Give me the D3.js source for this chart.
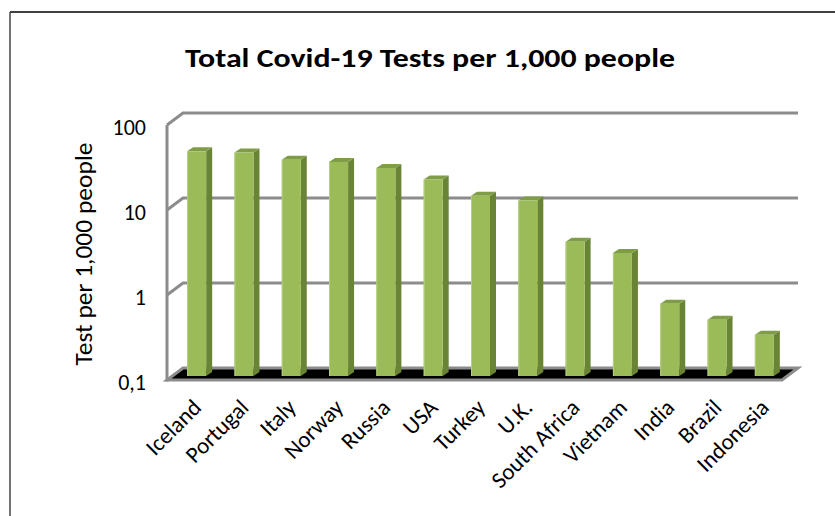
<!DOCTYPE html>
<html><head><meta charset="utf-8">
<script src="https://cdn.jsdelivr.net/npm/d3@7"></script>
<style>body{margin:0;background:#fff}svg{display:block}text{font-family:Carlito,"Open Sans",sans-serif}</style>
</head><body>
<svg id="c" width="835" height="516"></svg>
<script>
const categories = ["Iceland","Portugal","Italy","Norway","Russia","USA","Turkey","U.K.","South Africa","Vietnam","India","Brazil","Indonesia"];
const values = [44, 42.5, 35, 33, 28, 20.5, 13.2, 11.6, 3.8, 2.8, 0.71, 0.46, 0.305];
const tickValues = [0.1, 1, 10, 100];
const tickLabels = ["0,1", "1", "10", "100"];
const titleText = "Total Covid-19 Tests per 1,000 people";
const yTitle = "Test per 1,000 people";

const svg = d3.select("#c");
const x0 = 167, x1 = 782;
const y = d3.scaleLog().domain([0.1, 100]).range([380, 125]);
const x = d3.scaleBand().domain(categories).range([x0, x1]).paddingInner(0).paddingOuter(0);
const backDx = 16, backDy = -12;
const barDx = 6, barDy = -4, depthX = 6, depthY = -4;
const barW = 19;
const grid = "#8c8c8c";

// outer frame
svg.append("line").attr("x1",10).attr("y1",12).attr("x2",835).attr("y2",12).attr("stroke","#000").attr("stroke-width",1.5);
svg.append("line").attr("x1",10).attr("y1",12).attr("x2",10).attr("y2",516).attr("stroke","#444").attr("stroke-width",1.5);

// title
svg.append("text").attr("x",430).attr("y",67).attr("text-anchor","middle")
  .attr("font-size",26).attr("font-weight","bold").attr("fill","#000")
  .attr("textLength",490).attr("lengthAdjust","spacingAndGlyphs").text(titleText);

// floor
const fy = y(0.1);
svg.append("path").attr("d", `M${x0},${fy}L${x1},${fy}L${x1+backDx},${fy+backDy}L${x0+backDx},${fy+backDy}Z`)
  .attr("fill","#000").attr("stroke",grid).attr("stroke-width",3).attr("stroke-linejoin","miter");

// gridlines on back wall + left diagonal
tickValues.filter(v => v > 0.1).forEach(v => {
  const yy = y(v);
  svg.append("path").attr("d", `M${x0},${yy}L${x0+backDx},${yy+backDy}L${x1+backDx},${yy+backDy}`)
    .attr("fill","none").attr("stroke",grid).attr("stroke-width",3);
});
// front vertical axis line
svg.append("line").attr("x1",x0).attr("x2",x0).attr("y1",y(100)).attr("y2",y(0.1)+1.5)
  .attr("stroke",grid).attr("stroke-width",3);

// tick labels
tickValues.forEach((v,i) => {
  svg.append("text").attr("x",146).attr("y",y(v)+2).attr("dy","0.35em").attr("text-anchor","end")
    .attr("font-size",22).attr("fill","#000").text(tickLabels[i]);
});

// y axis title
svg.append("text").attr("transform","translate(92,254) rotate(-90)").attr("text-anchor","middle")
  .attr("font-size",25.5).attr("fill","#000").text(yTitle);

// bars
const g = svg.append("g");
categories.forEach((c,i) => {
  const v = values[i];
  const xl = x(c) + x.bandwidth()/2 - barW/2 + barDx;
  const xr = xl + barW;
  const top = y(v) + barDy;
  const bot = y(0.1) + barDy;
  g.append("path").attr("d", `M${xr},${top}L${xr+depthX},${top+depthY}L${xr+depthX},${bot+depthY}L${xr},${bot}Z`).attr("fill","#6a8435");
  g.append("path").attr("d", `M${xl},${top}L${xl+depthX},${top+depthY}L${xr+depthX},${top+depthY}L${xr},${top}Z`).attr("fill","#7f9d46");
  g.append("rect").attr("x",xl).attr("y",top).attr("width",barW).attr("height",bot-top).attr("fill","#9bbb59");
  g.append("line").attr("x1",xl+0.5).attr("x2",xl+0.5).attr("y1",top).attr("y2",bot).attr("stroke","#b5cf7e").attr("stroke-width",1);
});

// x labels
categories.forEach(c => {
  const cx = x(c) + x.bandwidth()/2 + 12;
  svg.append("text").attr("transform",`translate(${cx},409) rotate(-45)`).attr("text-anchor","end")
    .attr("font-size",23).attr("fill","#000").text(c);
});
</script>
</body></html>
